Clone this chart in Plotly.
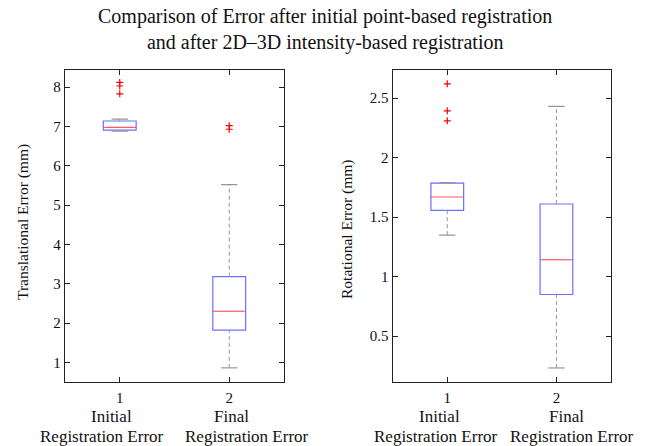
import plotly.graph_objects as go

# ---- data ----
positions = [1, 2]
tick_numbers = ["1", "2"]
group_names = ["Initial", "Final"]
group_sub = "Registration Error"

# Translational error (mm)
trans_q1 = [6.91, 1.82]
trans_med = [6.98, 2.30]
trans_q3 = [7.14, 3.18]
trans_low = [6.88, 0.86]
trans_high = [7.19, 5.52]
trans_out_x = [1, 1, 1, 2, 2]
trans_out_y = [8.12, 8.03, 7.83, 7.02, 6.93]

# Rotational error (mm)
rot_q1 = [1.557, 0.85]
rot_med = [1.669, 1.142]
rot_q3 = [1.785, 1.61]
rot_low = [1.349, 0.233]
rot_high = [1.79, 2.43]
rot_out_x = [1, 1, 1]
rot_out_y = [2.62, 2.393, 2.309]

BOX_W = 0.3
CAP_W = 0.15
BLUE = "rgb(110,110,255)"
RED = "rgb(255,90,90)"
GREY = "rgb(150,150,150)"
FONT = "Liberation Serif"
W, H = 649, 446

fig = go.Figure()


def add_panel(q1, med, q3, low, high, ox, oy, xa, ya):
    xref = "x" if xa == 1 else f"x{xa}"
    yref = "y" if ya == 1 else f"y{ya}"
    # whiskers (dashed)
    wx, wy = [], []
    for p, a, b, c, d in zip(positions, low, q1, q3, high):
        wx += [p, p, None, p, p, None]
        wy += [a, b, None, c, d, None]
    fig.add_trace(go.Scatter(x=wx, y=wy, mode="lines", xaxis=xref, yaxis=yref,
                             line=dict(color=GREY, width=1, dash="4px,3px"),
                             showlegend=False, hoverinfo="skip"))
    # caps
    cx, cy = [], []
    for p, a, d in zip(positions, low, high):
        cx += [p - CAP_W / 2, p + CAP_W / 2, None, p - CAP_W / 2, p + CAP_W / 2, None]
        cy += [a, a, None, d, d, None]
    fig.add_trace(go.Scatter(x=cx, y=cy, mode="lines", xaxis=xref, yaxis=yref,
                             line=dict(color=GREY, width=1.2),
                             showlegend=False, hoverinfo="skip"))
    # boxes (median drawn by box is covered by a red line below)
    for p, a, b, c in zip(positions, q1, med, q3):
        fig.add_trace(go.Box(x=[p], q1=[a], median=[b], q3=[c], lowerfence=[a],
                             upperfence=[c], width=BOX_W, whiskerwidth=0,
                             xaxis=xref, yaxis=yref,
                             line=dict(color=BLUE, width=1.2),
                             fillcolor="rgba(0,0,0,0)", showlegend=False,
                             hoverinfo="skip"))
    # medians
    mx, my = [], []
    for p, b in zip(positions, med):
        mx += [p - BOX_W / 2 + 0.012, p + BOX_W / 2 - 0.012, None]
        my += [b, b, None]
    fig.add_trace(go.Scatter(x=mx, y=my, mode="lines", xaxis=xref, yaxis=yref,
                             line=dict(color="white", width=2.4),
                             showlegend=False, hoverinfo="skip"))
    fig.add_trace(go.Scatter(x=mx, y=my, mode="lines", xaxis=xref, yaxis=yref,
                             line=dict(color=RED, width=1.2),
                             showlegend=False, hoverinfo="skip"))
    # outliers
    fig.add_trace(go.Scatter(x=ox, y=oy, mode="markers", xaxis=xref, yaxis=yref,
                             marker=dict(symbol="cross-thin", size=5,
                                         line=dict(color="red", width=1.2)),
                             showlegend=False, hoverinfo="skip"))


add_panel(trans_q1, trans_med, trans_q3, trans_low, trans_high,
          trans_out_x, trans_out_y, 1, 1)
add_panel(rot_q1, rot_med, rot_q3, rot_low, rot_high,
          rot_out_x, rot_out_y, 2, 2)

ydom = [1 - 382 / H, 1 - 69.5 / H]
axis_common = dict(showline=True, linecolor="#222", linewidth=1.3, mirror="ticks",
                   ticks="inside", ticklen=5, tickcolor="#222", showgrid=False,
                   zeroline=False, automargin=False, tickangle=0,
                   tickfont=dict(family=FONT, size=15, color="#111"))

# category name labels under the tick numbers (pixel centres from reference)
name_x = [[111.7, 231.0], [439.0, 566.0]]
sub_x = [[101.5, 246.5], [436.0, 572.0]]
label_font = dict(family=FONT, size=17, color="#111")
annotations = []
for panel in range(2):
    for i in range(2):
        annotations.append(dict(text=group_names[i], x=name_x[panel][i] / W,
                                y=1 - 416 / H, xref="paper", yref="paper",
                                xanchor="center", yanchor="middle",
                                showarrow=False, font=label_font))
        annotations.append(dict(text=group_sub, x=sub_x[panel][i] / W,
                                y=1 - 436 / H, xref="paper", yref="paper",
                                xanchor="center", yanchor="middle",
                                showarrow=False, font=label_font))

annotations += [
    dict(text="Comparison of Error after initial point-based registration<br>"
              "and after 2D\u20133D intensity-based registration",
         x=0.5, y=1 - 3 / H, xref="paper", yref="paper", xanchor="center",
         yanchor="top", showarrow=False,
         font=dict(family=FONT, size=20, color="#111")),
    dict(text="Translational Error (mm)", x=23 / W, y=1 - 222 / H,
         xref="paper", yref="paper", textangle=-90, showarrow=False,
         xanchor="center", yanchor="middle",
         font=dict(family=FONT, size=15.5, color="#111")),
    dict(text="Rotational Error (mm)", x=347 / W, y=1 - 230 / H,
         xref="paper", yref="paper", textangle=-90, showarrow=False,
         xanchor="center", yanchor="middle",
         font=dict(family=FONT, size=15.5, color="#111")),
]

fig.update_layout(
    width=W, height=H,
    margin=dict(l=0, r=0, t=0, b=0),
    paper_bgcolor="white", plot_bgcolor="white",
    boxmode="overlay",
    xaxis=dict(domain=[65 / W, 284 / W], range=[0.5, 2.5], tickvals=positions,
               ticktext=tick_numbers, anchor="y", ticklabelstandoff=2, **axis_common),
    yaxis=dict(domain=ydom, range=[0.5, 8.45], dtick=1, anchor="x", **axis_common),
    xaxis2=dict(domain=[392.7 / W, 611 / W], range=[0.5, 2.5], tickvals=positions,
                ticktext=tick_numbers, anchor="y2", ticklabelstandoff=2, **axis_common),
    yaxis2=dict(domain=ydom, range=[0.115, 2.74], tickvals=[0.5, 1, 1.5, 2, 2.5],
                ticktext=["0.5", "1", "1.5", "2", "2.5"], anchor="x2", **axis_common),
    annotations=annotations,
)

fig.write_html("out.html")
